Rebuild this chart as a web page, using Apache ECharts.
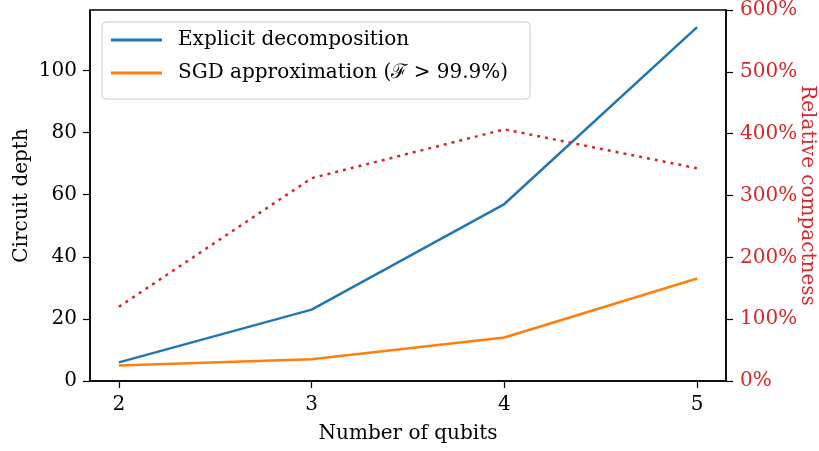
<!DOCTYPE html>
<html><head><meta charset="utf-8">
<script src="https://cdn.jsdelivr.net/npm/echarts@6/dist/echarts.min.js"></script>
<style>html,body{margin:0;padding:0;background:#fff}#c{width:819px;height:451px}</style>
</head><body><div id="c"></div>
<script>
const qubits = [2, 3, 4, 5];
const explicitDepth = [6, 23, 57, 114];
const sgdDepth = [5, 7, 14, 33];
const compactness = [120, 328, 407, 344];
const xTicks = [2, 3, 4, 5];
const leftTicks = [0, 20, 40, 60, 80, 100];
const FONT = '"DejaVu Serif", "Liberation Serif", serif';
const FS = 20;
const RED = '#d62728';
const chart = echarts.init(document.getElementById('c'));
chart.setOption({
  animation: false,
  textStyle: {fontFamily: FONT},
  grid: {left: 90, right: 93, top: 10, bottom: 70, containLabel: false, outerBoundsMode: 'none',
         show: true, borderColor: '#000', borderWidth: 1.5, backgroundColor: 'transparent'},
  legend: {
    orient: 'vertical', left: 102, top: 22, padding: [8, 22, 16, 9],
    backgroundColor: '#fff', borderColor: '#cccccc', borderWidth: 1, borderRadius: 4,
    itemWidth: 51, itemHeight: 3, itemGap: 13, icon: 'rect',
    textStyle: {fontFamily: FONT, fontSize: FS, color: '#000', padding: [0, 0, 0, 11]},
    data: ['Explicit decomposition', 'SGD approximation (ℱ > 99.9%)']
  },
  xAxis: {
    type: 'value', min: 1.85, max: 5.15,
    name: 'Number of qubits', nameLocation: 'middle', nameGap: 43, nameMoveOverlap: false,
    nameTextStyle: {fontFamily: FONT, fontSize: FS, color: '#000'},
    axisLine: {show: true, lineStyle: {color: '#000', width: 1.5}},
    axisTick: {show: true, length: 7, lineStyle: {color: '#000', width: 1.2}, customValues: xTicks},
    axisLabel: {fontFamily: FONT, fontSize: FS, color: '#000', margin: 14, customValues: xTicks},
    splitLine: {show: false}
  },
  yAxis: [{
    type: 'value', min: 0, max: 119.5,
    name: 'Circuit depth', nameLocation: 'middle', nameGap: 58, nameRotate: 90, nameMoveOverlap: false,
    nameTextStyle: {fontFamily: FONT, fontSize: FS, color: '#000'},
    axisLine: {show: true, lineStyle: {color: '#000', width: 1.5}},
    axisTick: {show: true, length: 7, lineStyle: {color: '#000', width: 1.2}, customValues: leftTicks},
    axisLabel: {fontFamily: FONT, fontSize: FS, color: '#000', margin: 13, customValues: leftTicks},
    splitLine: {show: false}
  }, {
    type: 'value', min: 0, max: 600, interval: 100, position: 'right',
    name: 'Relative compactness', nameLocation: 'middle', nameGap: 71, nameRotate: -90, nameMoveOverlap: false,
    nameTextStyle: {fontFamily: FONT, fontSize: FS, color: RED},
    axisLine: {show: true, lineStyle: {color: '#000', width: 1.5}},
    axisTick: {show: true, length: 7, lineStyle: {color: '#000', width: 1.2}},
    axisLabel: {fontFamily: FONT, fontSize: FS, color: RED, margin: 14, formatter: '{value}%'},
    splitLine: {show: false}
  }],
  series: [{
    name: 'Explicit decomposition', type: 'line', yAxisIndex: 0,
    data: qubits.map((q, i) => [q, explicitDepth[i]]),
    symbol: 'none', lineStyle: {color: '#1f77b4', width: 2.5}, itemStyle: {color: '#1f77b4'}
  }, {
    name: 'SGD approximation (ℱ > 99.9%)', type: 'line', yAxisIndex: 0,
    data: qubits.map((q, i) => [q, sgdDepth[i]]),
    symbol: 'none', lineStyle: {color: '#ff7f0e', width: 2.5}, itemStyle: {color: '#ff7f0e'}
  }, {
    name: 'Relative compactness', type: 'line', yAxisIndex: 1,
    data: qubits.map((q, i) => [q, compactness[i]]),
    symbol: 'none', lineStyle: {color: RED, width: 2.5, type: [3, 5], cap: 'butt'}, itemStyle: {color: RED}
  }]
});
</script></body></html>
